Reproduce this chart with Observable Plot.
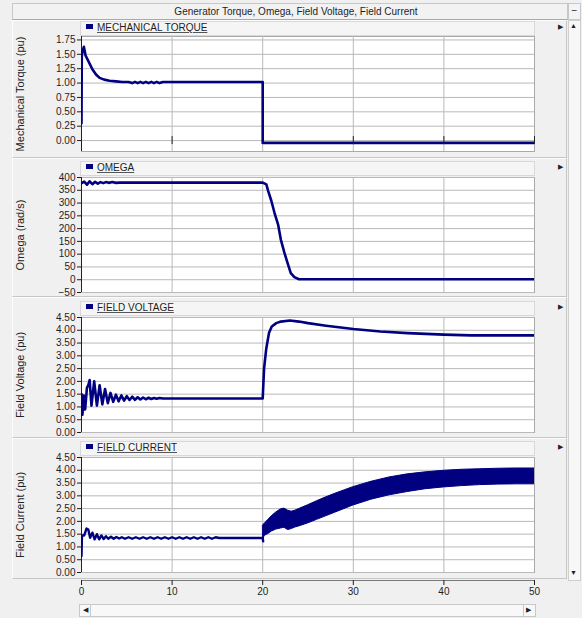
<!DOCTYPE html>
<html><head><meta charset="utf-8">
<script src="https://cdn.jsdelivr.net/npm/d3@7"></script>
<script src="https://cdn.jsdelivr.net/npm/@observablehq/plot@0.6"></script>
<style>
body{margin:0;background:#f0f0f0;font-family:"Liberation Sans",Arial,sans-serif;}
#root{position:relative;width:582px;height:618px;overflow:hidden;background:#f0f0f0;}
.abs{position:absolute;}
.panel{position:absolute;left:12px;width:555px;border:1px solid #c6c6c6;border-top-color:#fdfdfd;border-left-color:#fdfdfd;box-sizing:border-box;background:#f0f0f0;}
.hdr{position:absolute;left:80px;width:455px;height:15px;background:#f5f5f5;border:1px solid #d8d8d8;box-sizing:border-box;}
.leg{position:absolute;left:86px;font-size:10px;color:#1e1e1e;white-space:nowrap;line-height:12px;}
.leg span.sw{display:inline-block;width:7px;height:5px;background:#000080;margin-right:4px;vertical-align:2px;}
.leg span.tx{text-decoration:underline;text-decoration-color:#555;}
.mk{position:absolute;left:558px;font-size:7px;color:#222;line-height:8px;}
svg{position:absolute;}
</style></head><body><div id="root"></div>
<script>
// ---------- data ----------
const chartTitle = "Generator Torque, Omega, Field Voltage, Field Current";
const legendNames = ["MECHANICAL TORQUE", "OMEGA", "FIELD VOLTAGE", "FIELD CURRENT"];
const yTitles = ["Mechanical Torque (pu)", "Omega (rad/s)", "Field Voltage (pu)", "Field Current (pu)"];
const xTicks = [0, 10, 20, 30, 40, 50];
const xGrid = [10, 20, 30, 40];
const torqueTicks = [0, 0.25, 0.5, 0.75, 1.0, 1.25, 1.5, 1.75];
const omegaTicks = [-50, 0, 50, 100, 150, 200, 250, 300, 350, 400];
const vfTicks = [0, 0.5, 1.0, 1.5, 2.0, 2.5, 3.0, 3.5, 4.0, 4.5];
const ifTicks = [0, 0.5, 1.0, 1.5, 2.0, 2.5, 3.0, 3.5, 4.0, 4.5];

const tTorque = [0, 0.03, 0.1, 0.26, 0.45, 0.8, 1.2, 1.6, 2.0, 2.5, 3.1, 3.8, 4.5, 5.2, 5.6, 5.9, 6.2, 6.5, 6.8, 7.1, 7.4, 7.7, 8.0, 8.3, 8.6, 9.0, 20, 20, 50];
const torque  = [0.3, 1.45, 1.55, 1.63, 1.48, 1.37, 1.24, 1.15, 1.09, 1.06, 1.04, 1.03, 1.02, 1.02, 1.0, 1.02, 1.0, 1.02, 1.0, 1.02, 1.0, 1.02, 1.0, 1.02, 1.0, 1.02, 1.02, -0.04, -0.04];

const tOmega = [0, 0.3, 0.6, 0.9, 1.2, 1.5, 1.8, 2.1, 2.4, 2.7, 3.0, 3.4, 3.8, 4.2, 20, 20.4, 20.6, 20.95, 21.3, 21.7, 22.0, 22.4, 22.8, 23.1, 23.5, 24.0, 24.5, 50];
const omega  = [378, 384, 372, 385, 374, 383, 376, 382, 378, 382, 379, 382, 379, 380, 380, 373, 348, 309, 262, 216, 157, 105, 59, 26, 10, 2, 2, 2];

const tVf = [0, 0.1, 0.25, 0.4, 0.6, 0.75, 0.9, 1.1, 1.4, 1.7, 2.0, 2.3, 2.6, 2.9, 3.2, 3.5, 3.8, 4.1, 4.4, 4.7, 5.0, 5.3, 5.6, 5.9, 6.2, 6.5, 6.8, 7.1, 7.4, 7.7, 8.0, 8.3, 8.6, 9.0, 20, 20.15, 20.4, 20.7, 21.0, 21.5, 22, 23, 24, 25, 27, 30, 33, 36, 40, 43, 50];
const vf  = [1.5, 0.7, 1.45, 0.9, 1.75, 1.85, 2.05, 1.05, 2.0, 1.05, 1.85, 1.1, 1.7, 1.15, 1.55, 1.2, 1.48, 1.22, 1.45, 1.25, 1.42, 1.27, 1.4, 1.28, 1.38, 1.29, 1.37, 1.3, 1.36, 1.31, 1.35, 1.32, 1.35, 1.33, 1.33, 2.5, 3.3, 3.9, 4.15, 4.28, 4.34, 4.38, 4.34, 4.28, 4.18, 4.05, 3.95, 3.89, 3.83, 3.8, 3.8];

const tIf = [0, 0.05, 0.3, 0.55, 0.75, 0.95, 1.2, 1.45, 1.7, 1.95, 2.2, 2.45, 2.7, 2.95, 3.25, 3.55, 3.85, 4.15, 4.45, 4.8, 5.2, 5.6, 6.0, 6.4, 6.8, 7.2, 7.6, 8.0, 8.4, 8.8, 9.2, 9.6, 10.0, 10.4, 10.8, 11.2, 11.6, 12.0, 12.4, 12.8, 13.2, 13.6, 14.0, 14.4, 14.8, 15.2, 20, 20.05];
const ifv = [0.65, 1.45, 1.45, 1.72, 1.68, 1.36, 1.56, 1.3, 1.5, 1.3, 1.45, 1.31, 1.42, 1.32, 1.4, 1.32, 1.39, 1.33, 1.38, 1.32, 1.38, 1.32, 1.38, 1.32, 1.38, 1.32, 1.38, 1.32, 1.38, 1.32, 1.38, 1.32, 1.38, 1.32, 1.38, 1.32, 1.38, 1.32, 1.38, 1.32, 1.38, 1.32, 1.38, 1.32, 1.38, 1.35, 1.35, 1.22];

const tBand  = [20.05, 20.2, 20.6, 21.0, 21.5, 22.0, 22.4, 22.8, 23.2, 23.6, 24.0, 25, 26, 27, 28, 30, 32, 34, 36, 38, 40, 42, 44, 46, 48, 50];
const ifHigh = [1.85, 1.9, 2.05, 2.2, 2.35, 2.47, 2.5, 2.42, 2.38, 2.42, 2.48, 2.63, 2.79, 2.94, 3.08, 3.34, 3.55, 3.72, 3.84, 3.92, 3.98, 4.02, 4.04, 4.06, 4.07, 4.07];
const ifLow  = [1.22, 1.43, 1.5, 1.6, 1.68, 1.72, 1.75, 1.66, 1.7, 1.76, 1.8, 1.92, 2.06, 2.2, 2.34, 2.62, 2.85, 3.02, 3.15, 3.26, 3.33, 3.38, 3.42, 3.44, 3.45, 3.45];

// ---------- helpers ----------
const NAVY = "#000080";
const FONT = "'Liberation Sans', Arial, sans-serif";
const root = document.getElementById("root");
function el(tag, cls, css, html) {
  const e = document.createElement(tag);
  if (cls) e.className = cls;
  if (css) e.style.cssText = css;
  if (html != null) e.innerHTML = html;
  root.appendChild(e);
  return e;
}
const pts = (xs, ys) => xs.map((x, i) => ({x, y: ys[i]}));

// chrome
el("div", "abs", "left:12px;top:3px;width:556px;height:17px;background:#f2f2f2;border:1px solid #c8c8c8;border-bottom-color:#a8a8a8;box-sizing:border-box;");
el("div", "abs", `left:12px;top:3px;width:568px;height:17px;text-align:center;font-size:10px;line-height:17px;color:#1e1e1e;font-family:${FONT};`).textContent = chartTitle;
el("div", "abs", "left:568px;top:3px;width:13px;height:17px;background:#f4f4f4;border:1px solid #c8c8c8;box-sizing:border-box;font-size:10px;line-height:13px;text-align:center;color:#222;", "&#8722;");
el("div", "abs", "left:568px;top:20px;width:13px;height:561px;background:#f7f7f7;border:1px solid #cfcfcf;box-sizing:border-box;");
el("div", "abs", "left:570px;top:22px;font-size:7px;color:#222;", "&#9650;");
el("div", "abs", "left:570px;top:569px;font-size:7px;color:#222;", "&#9660;");

const panels = [
  {top: 36, bottom: 151, box: [20, 158], hdr: 21, domain: [-0.19, 1.81], ticks: torqueTicks, fmt: ".2f"},
  {top: 177, bottom: 292, box: [158, 297], hdr: 161, domain: [-50, 400], ticks: omegaTicks, fmt: "d"},
  {top: 317, bottom: 432, box: [297, 438], hdr: 301, domain: [0, 4.5], ticks: vfTicks, fmt: ".2f"},
  {top: 457, bottom: 572, box: [438, 579], hdr: 441, domain: [0, 4.5], ticks: ifTicks, fmt: ".2f"}
];

const dataMarks = [
  [Plot.line(pts(tTorque, torque), {x: "x", y: "y", stroke: NAVY, strokeWidth: 2.6, clip: true}),
   Plot.ruleX([10, 30, 40, 50], {y1: -0.07, y2: 0.07, stroke: "#222"})],
  [Plot.line(pts(tOmega, omega), {x: "x", y: "y", stroke: NAVY, strokeWidth: 2.6, clip: true})],
  [Plot.line(pts(tVf, vf), {x: "x", y: "y", stroke: NAVY, strokeWidth: 2.6, clip: true})],
  [Plot.line(pts(tIf, ifv), {x: "x", y: "y", stroke: NAVY, strokeWidth: 2.4, clip: true}),
   Plot.areaY(tBand.map((x, i) => ({x, lo: ifLow[i], hi: ifHigh[i]})), {x: "x", y1: "lo", y2: "hi", fill: NAVY, stroke: NAVY, strokeWidth: 1, clip: true})]
];

panels.forEach((p, i) => {
  el("div", "panel", `top:${p.box[0]}px;height:${p.box[1] - p.box[0]}px;`);
  el("div", "hdr", `top:${p.hdr}px;`);
  el("div", "leg", `top:${p.hdr + 1}px;font-family:${FONT};`, `<span class="sw"></span><span class="tx">${legendNames[i]}</span>`);
  el("div", "mk", `top:${p.hdr + 2}px;`, "&#9654;");
  const h = p.bottom - p.top;
  const svg = Plot.plot({
    width: 567, height: h + 16,
    marginLeft: 81, marginRight: 33, marginTop: 8, marginBottom: 8,
    style: {background: "transparent", fontFamily: FONT, fontSize: "10px", color: "#1e1e1e", overflow: "visible"},
    x: {domain: [0, 50], axis: null},
    y: {domain: p.domain},
    marks: [
      Plot.frame({fill: "white", stroke: "#a9a9a9"}),
      Plot.gridX(xGrid, {stroke: "#b9b9b9", strokeOpacity: 1}),
      Plot.gridY(p.ticks, {stroke: "#b9b9b9", strokeOpacity: 1}),
      Plot.axisY(p.ticks, {tickFormat: d3.format(p.fmt), tickSize: 4, tickPadding: 2, label: null, fontSize: 10}),
      Plot.ruleX([0], {stroke: "#222", strokeWidth: 1}),
      ...dataMarks[i],
      Plot.text([yTitles[i]], {frameAnchor: "left", textAnchor: "middle", dx: -61, rotate: -90, fontSize: 11, fill: "#222"})
    ]
  });
  svg.style.left = "0px";
  svg.style.top = (p.top - 8) + "px";
  root.appendChild(svg);
});

// x axis strip
const xs = Plot.plot({
  width: 567, height: 25,
  marginLeft: 81, marginRight: 33, marginTop: 4, marginBottom: 20,
  style: {background: "transparent", fontFamily: FONT, fontSize: "10px", color: "#1e1e1e", overflow: "visible"},
  x: {domain: [0, 50]},
  y: {domain: [0, 1], axis: null},
  marks: [
    Plot.ruleY([0], {stroke: "#7a7a7a"}),
    Plot.axisX(xTicks, {anchor: "bottom", tickSize: 5, tickPadding: 2, label: null, fontSize: 10})
  ]
});
xs.style.left = "0px"; xs.style.top = "575px";
root.appendChild(xs);

// horizontal scrollbar
el("div", "abs", "left:79px;top:604px;width:457px;height:13px;background:#f8f8f8;border:1px solid #c8c8c8;box-sizing:border-box;");
el("div", "abs", "left:90px;top:605px;width:1px;height:11px;background:#c8c8c8;");
el("div", "abs", "left:523px;top:605px;width:1px;height:11px;background:#c8c8c8;");
el("div", "abs", "left:83px;top:606px;font-size:7px;color:#222;", "&#9664;");
el("div", "abs", "left:526px;top:606px;font-size:7px;color:#222;", "&#9654;");
</script></body></html>
